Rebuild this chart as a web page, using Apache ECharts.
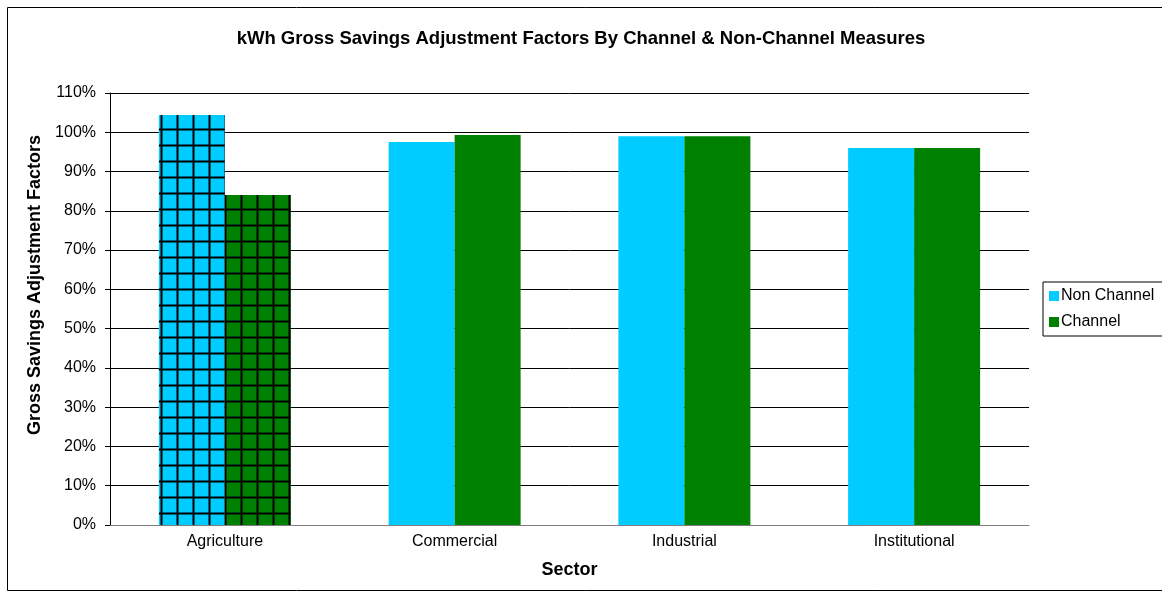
<!DOCTYPE html>
<html>
<head>
<meta charset="utf-8">
<script src="https://cdn.jsdelivr.net/npm/echarts@6/dist/echarts.min.js"></script>
<style>
html,body{margin:0;padding:0;background:#fff;}
#main{width:1162px;height:610px;}
</style>
</head>
<body>
<div id="main"></div>
<script>
// 数据
var sectors = ['Agriculture', 'Commercial', 'Industrial', 'Institutional'];
var nonChannel = [1.044, 0.975, 0.99, 0.96];
var channel = [0.84, 0.993, 0.99, 0.96];
var yTicks = [0, 0.1, 0.2, 0.3, 0.4, 0.5, 0.6, 0.7, 0.8, 0.9, 1.0, 1.1];

var cyan = '#00ccff';
var green = '#008000';
var font = 'Liberation Sans, Arial, sans-serif';

// 网格填充 (Agriculture)
function gridPattern(color){
	var c = document.createElement('canvas');
	c.width = 16; c.height = 16;
	var ctx = c.getContext('2d');
	ctx.fillStyle = color;
	ctx.fillRect(0, 0, 16, 16);
	ctx.fillStyle = 'rgba(0,0,0,0.5)';
	ctx.fillRect(0, 0, 16, 3);
	ctx.fillRect(0, 0, 3, 16);
	ctx.fillStyle = '#000';
	ctx.fillRect(0, 1, 16, 1);
	ctx.fillRect(1, 0, 1, 16);
	return {image: c, repeat: 'repeat'};
}

function buildData(vals, color){
	var out = [];
	for(var i = 0; i < vals.length; i++){
		if(i == 0){
			out.push({value: vals[i], itemStyle: {color: gridPattern(color)}});
		} else {
			out.push(vals[i]);
		}
	}
	return out;
}

var chart = echarts.init(document.getElementById('main'));
var option = {
	animation: false,
	title: {
		text: 'kWh Gross Savings Adjustment Factors By Channel & Non-Channel Measures',
		left: 'center',
		top: 24,
		textStyle: {fontFamily: font, fontSize: 18.5, fontWeight: 'bold', color: '#000'}
	},
	graphic: [{
		type: 'rect',
		shape: {x: 7.5, y: 7.5, width: 1170, height: 583},
		style: {fill: 'none', stroke: '#000', lineWidth: 1},
		silent: true
	}],
	legend: {
		orient: 'vertical',
		left: 1043,
		top: 282,
		itemWidth: 10,
		itemHeight: 10,
		itemGap: 10,
		padding: [6, 10, 6, 6],
		borderColor: '#000',
		borderWidth: 1,
		icon: 'rect',
		textStyle: {fontFamily: font, fontSize: 16, color: '#000', padding: [0, 0, 0, -3]},
		data: ['Non Channel', 'Channel']
	},
	grid: {left: 110, right: 133, top: 93, bottom: 85},
	xAxis: {
		type: 'category',
		data: sectors,
		name: 'Sector',
		nameLocation: 'middle',
		nameGap: 36,
		nameTextStyle: {fontFamily: font, fontSize: 18, fontWeight: 'bold', color: '#000'},
		axisLine: {lineStyle: {color: '#808080'}},
		axisTick: {length: 5, lineStyle: {color: '#404040'}},
		axisLabel: {fontFamily: font, fontSize: 16, color: '#000', margin: 9}
	},
	yAxis: {
		type: 'value',
		min: 0,
		max: 1.1,
		interval: 0.1,
		name: 'Gross Savings Adjustment Factors',
		nameLocation: 'middle',
		nameGap: 65,
		nameTextStyle: {fontFamily: font, fontSize: 18, fontWeight: 'bold', color: '#000', padding: [0, 0, 0, 48]},
		axisLine: {show: true, lineStyle: {color: '#000'}},
		axisTick: {show: true, length: 5, lineStyle: {color: '#000'}},
		splitLine: {lineStyle: {color: '#000', width: 1}},
		axisLabel: {
			fontFamily: font, fontSize: 16, color: '#000', margin: 14,
			formatter: function(v){ return Math.round(v * 100) + '%'; }
		}
	},
	series: [{
		name: 'Non Channel',
		type: 'bar',
		barWidth: 66,
		barGap: '0%',
		itemStyle: {color: cyan},
		data: buildData(nonChannel, cyan)
	}, {
		name: 'Channel',
		type: 'bar',
		barWidth: 66,
		barGap: '0%',
		itemStyle: {color: green},
		data: buildData(channel, green)
	}]
};
chart.setOption(option);
</script>
</body>
</html>
